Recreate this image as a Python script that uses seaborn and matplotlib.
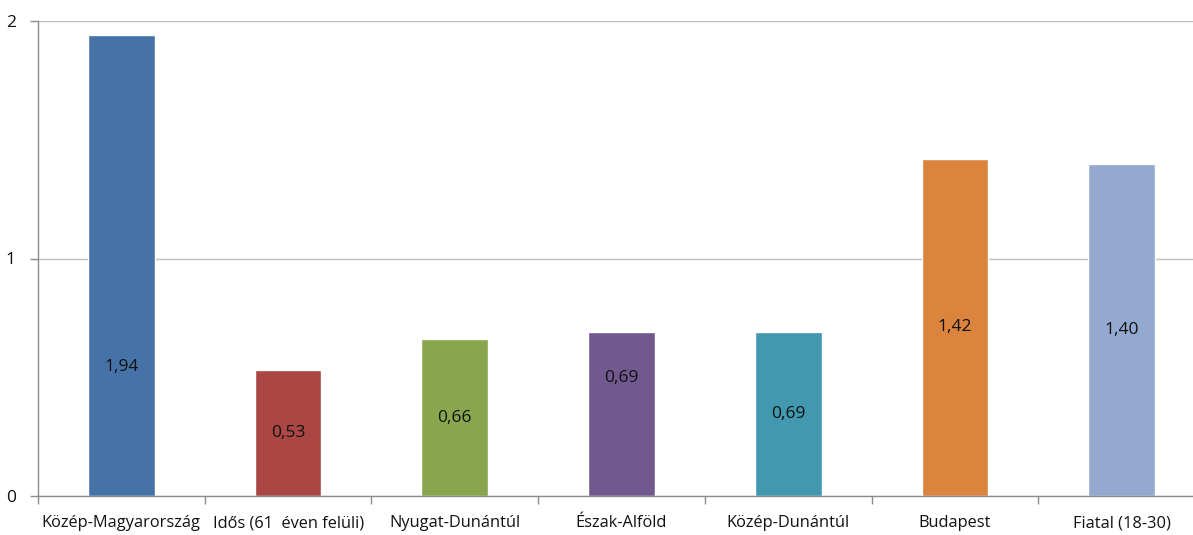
import matplotlib
matplotlib.use("Agg")
import matplotlib.pyplot as plt
import seaborn as sns
import pandas as pd
import numpy as np

categories = ["Közép-Magyarország", "Idős (61  éven felüli)", "Nyugat-Dunántúl",
              "Észak-Alföld", "Közép-Dunántúl", "Budapest", "Fiatal (18-30)"]
values = [1.94, 0.53, 0.66, 0.69, 0.69, 1.42, 1.40]
value_labels = ["1,94", "0,53", "0,66", "0,69", "0,69", "1,42", "1,40"]
label_frac = [0.28, 0.5, 0.5, 0.72, 0.5, 0.5, 0.5]
colors = ["#4572A7", "#AA4643", "#89A54E", "#71588F", "#4198AF", "#DB843D", "#93A9CF"]
y_ticks = [0, 1, 2]

sns.set_theme(style="white")
plt.rcParams['font.family'] = ['Open Sans', 'DejaVu Sans']

fig = plt.figure(figsize=(11.93, 5.35), dpi=100)
ax = fig.add_axes([38/1193, 39/535, 1167/1193, 475/535])

df = pd.DataFrame({"cat": categories, "val": values})
sns.barplot(data=df, x="cat", y="val", hue="cat", palette=colors, legend=False,
            width=0.40, ax=ax, saturation=1)

for i, p in enumerate(ax.patches):
    h = p.get_height()
    ax.text(p.get_x() + p.get_width()/2, h*label_frac[i], value_labels[i],
            ha="center", va="center", fontsize=12.5, color="#111111")

ax.set_ylim(0, 2)
ax.set_xlim(-0.5, len(categories) - 0.5)
ax.set_yticks(y_ticks)
ax.set_yticklabels([str(t) for t in y_ticks], fontsize=12.5, color="#111111")
ax.yaxis.grid(True, color="#BEBEBE", linewidth=1)
ax.set_axisbelow(True)
ax.set_xlabel("")
ax.set_ylabel("")
ax.tick_params(axis="x", which="major", length=0, labelsize=11.8, labelcolor="#111111", pad=14)
ax.set_xticks(np.arange(-0.5, len(categories), 1.0), minor=True)
ax.tick_params(axis="x", which="minor", length=6, color="#8C8C8C", width=1, bottom=True)
ax.tick_params(axis="y", length=6, color="#8C8C8C", width=1, left=True, pad=10)

for s in ["top", "right"]:
    ax.spines[s].set_visible(False)
for s in ["left", "bottom"]:
    ax.spines[s].set_color("#8C8C8C")
    ax.spines[s].set_linewidth(1)

fig.savefig("out.png", dpi=100)
